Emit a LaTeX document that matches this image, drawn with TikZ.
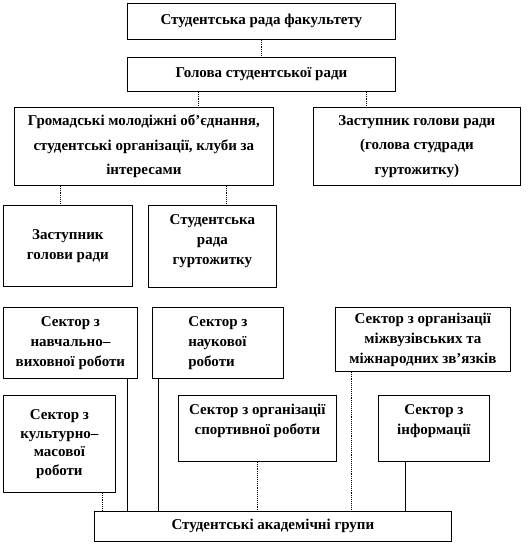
\documentclass[tikz,border=0pt]{standalone}
\usepackage{fontspec}
\setmainfont{Liberation Serif}
\usepackage{tikz}
\usetikzlibrary{positioning}

\begin{document}
\begin{tikzpicture}[
  x=1pt, y=-1pt,
  box/.style={draw, line width=0.8pt, anchor=north west, align=center, inner sep=2pt,
    font=\fontsize{15}{20}\selectfont\bfseries},
  wide/.style={font=\fontsize{15}{24.5}\selectfont\bfseries},
  dotlink/.style={densely dotted, line width=0.9pt},
  link/.style={line width=0.8pt}
]
\useasboundingbox (0,0) rectangle (529,544);

\node[box, minimum width=268pt, minimum height=36pt] (rada) at (127,3) {Студентська рада факультету};
\node[box, minimum width=268pt, minimum height=34pt] (holova) at (127,57) {Голова студентської ради};
\node[box, wide, minimum width=259pt, minimum height=78pt] (hromady) at (14,107)
  {Громадські молодіжні об’єднання,\\студентські організації, клуби за\\інтересами};
\node[box, wide, minimum width=207pt, minimum height=78pt] (zastup) at (313,107)
  {Заступник голови ради\\(голова студради\\гуртожитку)};
\node[box, minimum width=129pt, minimum height=81pt] (zastgol) at (3,205) {Заступник\\голови ради};
\node[box, minimum width=128pt, minimum height=82pt, text depth=14pt] (gurt) at (148,205) {Студентська\\рада\\гуртожитку};

\node[box, minimum width=134pt, minimum height=71pt] (navch) at (3,307) {Сектор з\\навчально–\\виховної роботи};
\node[box, minimum width=131pt, minimum height=71pt, align=left] (nauk) at (152,307) {Сектор з\\наукової\\роботи};
\node[box, minimum width=175pt, minimum height=64pt] (mizhn) at (335,307)
  {Сектор з організації\\міжвузівських та\\міжнародних зв’язків};
\node[box, minimum width=112pt, minimum height=97pt, font=\fontsize{15}{18.5}\selectfont\bfseries] (kult) at (3,395)
  {Сектор з\\культурно–\\масової\\роботи};
\node[box, minimum width=158pt, minimum height=66pt, text depth=18pt] (sport) at (178,395) {Сектор з організації\\спортивної роботи};
\node[box, minimum width=111pt, minimum height=66pt, text depth=18pt] (inform) at (378,395) {Сектор з\\інформації};
\node[box, minimum width=357pt, minimum height=30pt] (hrupy) at (94,511) {Студентські академічні групи};

\draw[dotlink] (rada.south) -- (holova.north);
\draw[dotlink] ([xshift=54.5pt]hromady.north |- holova.south) -- ([xshift=54.5pt]hromady.north);
\draw[dotlink] ([xshift=105pt]holova.south) -- ([xshift=105pt]holova.south |- zastup.north);
\draw[dotlink] ([xshift=-7.5pt]zastgol.north |- hromady.south) -- ([xshift=-7.5pt]zastgol.north);
\draw[dotlink] ([xshift=14pt]gurt.north |- hromady.south) -- ([xshift=14pt]gurt.north);

\draw[dotlink] ([xshift=43pt]kult.south) -- ([xshift=43pt]kult.south |- hrupy.north);
\draw[link] ([xshift=57pt]navch.south) -- ([xshift=57pt]navch.south |- hrupy.north);
\draw[link] ([xshift=6pt]nauk.south west) -- ([xshift=6pt]nauk.south west |- hrupy.north);
\draw[dotlink] (sport.south) -- (sport.south |- hrupy.north);
\draw[dotlink] ([xshift=16pt]mizhn.south west) -- ([xshift=16pt]mizhn.south west |- hrupy.north);
\draw[link] ([xshift=-28.5pt]inform.south) -- ([xshift=-28.5pt]inform.south |- hrupy.north);
\end{tikzpicture}
\end{document}
